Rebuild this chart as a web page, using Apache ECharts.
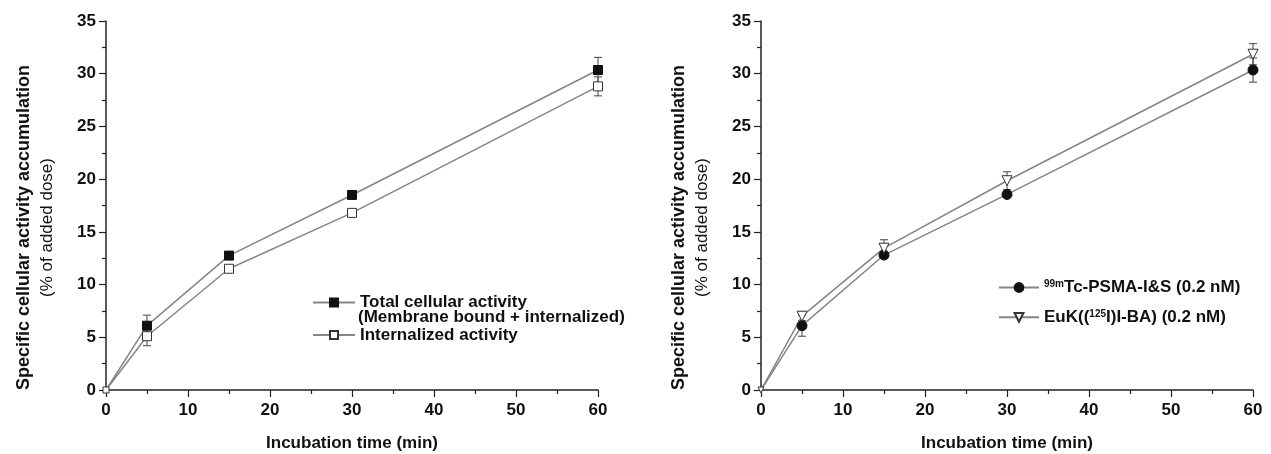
<!DOCTYPE html>
<html><head><meta charset="utf-8">
<script src="https://cdn.jsdelivr.net/npm/echarts@6/dist/echarts.min.js"></script>
<style>html,body{margin:0;padding:0;background:#fff}#c{width:1271px;height:454px}</style>
</head><body><div id="c"></div>
<script>
// ---- data ----
const times = [0, 5, 15, 30, 60];
const totalActivity = [0, 6.1, 12.75, 18.5, 30.35];
const totalErr = [0, 1.0, 0.3, 0.3, 1.2];
const internalized = [0, 5.1, 11.5, 16.8, 28.8];
const internalizedErr = [0, 0.9, 0.3, 0.3, 0.9];
const psma = [0, 6.1, 12.8, 18.55, 30.35];
const psmaErr = [0, 1.0, 0.3, 0.3, 1.15];
const euk = [0, 7.0, 13.45, 19.85, 31.85];
const eukErr = [0, 0.4, 0.8, 0.85, 1.0];
const seriesNames = ['Total cellular activity', 'Internalized activity', '99mTc-PSMA-I&S (0.2 nM)', 'EuK((125I)I-BA) (0.2 nM)'];
const totalSubLabel = '(Membrane bound + internalized)';
const xTitle = 'Incubation time (min)';
const yTitle1 = 'Specific cellular activity accumulation';
const yTitle2 = '(% of added dose)';

const FONT = '"Liberation Sans", Arial, sans-serif';
const pts = (ys) => times.map((t, i) => [t, ys[i]]);
const errPts = (ys, es) => times.map((t, i) => [t, ys[i] - es[i], ys[i] + es[i]]).filter((d, i) => es[i] > 0);

function errRender(params, api) {
  const x = api.value(0), lo = api.value(1), hi = api.value(2);
  const a = api.coord([x, hi]), b = api.coord([x, lo]);
  const w = 4;
  const st = { stroke: '#444', lineWidth: 1 };
  return { type: 'group', children: [
    { type: 'line', shape: { x1: a[0], y1: a[1], x2: b[0], y2: b[1] }, style: st },
    { type: 'line', shape: { x1: a[0] - w, y1: a[1], x2: a[0] + w, y2: a[1] }, style: st },
    { type: 'line', shape: { x1: b[0] - w, y1: b[1], x2: b[0] + w, y2: b[1] }, style: st }
  ]};
}

function xAxisCfg(gi) {
  return {
    gridIndex: gi, type: 'value', min: 0, max: 60, interval: 10,
    name: xTitle, nameLocation: 'middle', nameGap: 45,
    nameTextStyle: { fontFamily: FONT, fontWeight: 'bold', fontSize: 17, color: '#111', lineHeight: 17 },
    axisLine: { onZero: false, lineStyle: { color: '#222', width: 1.5 } },
    axisTick: { inside: false, length: 7, lineStyle: { color: '#222', width: 1.2 } },
    minorTick: { show: true, splitNumber: 2, length: 4, lineStyle: { color: '#222', width: 1.2 } },
    axisLabel: { fontFamily: FONT, fontWeight: 'bold', fontSize: 17, color: '#111', margin: 12, lineHeight: 17 },
    splitLine: { show: false }
  };
}
function yAxisCfg(gi) {
  return {
    gridIndex: gi, type: 'value', min: 0, max: 35, interval: 5,
    name: '{a|' + yTitle1 + '}\n{b|' + yTitle2 + '}',
    nameLocation: 'middle', nameRotate: 90, nameGap: 47,
    nameTextStyle: {
      padding: [0, 44, 0, 0],
      rich: {
        a: { fontFamily: FONT, fontWeight: 'bold', fontSize: 18, color: '#111', lineHeight: 23 },
        b: { fontFamily: FONT, fontWeight: 'normal', fontSize: 17, color: '#111', lineHeight: 23 }
      }
    },
    axisLine: { show: true, onZero: false, lineStyle: { color: '#222', width: 1.5 } },
    axisTick: { show: true, inside: false, length: 7, lineStyle: { color: '#222', width: 1.2 } },
    minorTick: { show: true, splitNumber: 2, length: 4, lineStyle: { color: '#222', width: 1.2 } },
    axisLabel: { fontFamily: FONT, fontWeight: 'bold', fontSize: 17, color: '#111', margin: 10 },
    splitLine: { show: false }
  };
}
function lineSeries(name, data, gi, symbol, filled, size, rotate) {
  return {
    name, type: 'line', xAxisIndex: gi, yAxisIndex: gi, data: pts(data), z: 3,
    symbol, symbolSize: (v) => v[0] === 0 ? (filled ? 0 : 6) : size,
    symbolRotate: rotate || 0,
    showAllSymbol: true,
    lineStyle: { color: '#858585', width: 1.5 },
    itemStyle: filled ? { color: '#111', borderColor: '#111', borderWidth: 1 }
                      : { color: '#fff', borderColor: '#333', borderWidth: 1 },
    emphasis: { disabled: true }, animation: false
  };
}
function errSeries(data, errs, gi) {
  return { type: 'custom', xAxisIndex: gi, yAxisIndex: gi, data: errPts(data, errs), renderItem: errRender, z: 1, silent: true, animation: false };
}

const legendText = { fontFamily: FONT, fontWeight: 'bold', fontSize: 17, color: '#111', lineHeight: 16 };
const chart = echarts.init(document.getElementById('c'), null, { renderer: 'canvas' });
chart.setOption({
  backgroundColor: '#fff',
  animation: false,
  grid: [
    { left: 106, top: 21, width: 492, height: 369, outerBoundsMode: 'none', containLabel: false },
    { left: 761, top: 21, width: 492, height: 369, outerBoundsMode: 'none', containLabel: false }
  ],
  xAxis: [xAxisCfg(0), xAxisCfg(1)],
  yAxis: [yAxisCfg(0), yAxisCfg(1)],
  legend: [
    { data: [seriesNames[0], seriesNames[1]], orient: 'vertical', left: 312, top: 294, itemGap: 15.6, padding: 0,
      itemWidth: 42, itemHeight: 10, textStyle: legendText, selectedMode: false },
    { data: [seriesNames[2], seriesNames[3]], orient: 'vertical', left: 998, top: 279, itemGap: 11.3, padding: 0,
      itemWidth: 40, itemHeight: 11, selectedMode: false,
      formatter: (n) => n === seriesNames[2] ? '{sup|99m}{b|Tc-PSMA-I&S (0.2 nM)}' : '{b|EuK((}{sup|125}{b|I)I-BA) (0.2 nM)}',
      textStyle: { rich: {
        b: legendText,
        sup: { fontFamily: FONT, fontWeight: 'bold', fontSize: 10, color: '#111', lineHeight: 16, verticalAlign: 'top', padding: [0, 0, 8, 0] }
      } } }
  ],
  graphic: [
    { type: 'text', left: 358, top: 309, style: { text: totalSubLabel, font: 'bold 17px ' + FONT, fill: '#111' } }
  ],
  series: [
    errSeries(totalActivity, totalErr, 0),
    errSeries(internalized, internalizedErr, 0),
    lineSeries(seriesNames[0], totalActivity, 0, 'rect', true, 9),
    lineSeries(seriesNames[1], internalized, 0, 'rect', false, 9),
    errSeries(psma, psmaErr, 1),
    errSeries(euk, eukErr, 1),
    lineSeries(seriesNames[2], psma, 1, 'circle', true, 10),
    lineSeries(seriesNames[3], euk, 1, 'triangle', false, 10, 180)
  ]
});
</script></body></html>
